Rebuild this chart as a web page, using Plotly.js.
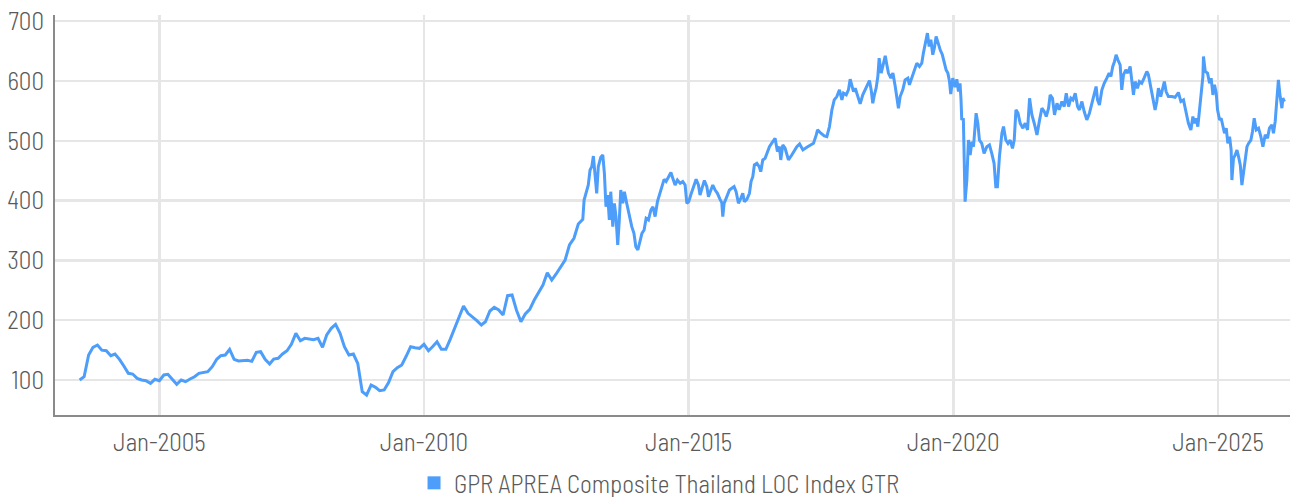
<!DOCTYPE html>
<html>
<head>
<meta charset="utf-8">
<script src="https://cdn.plot.ly/plotly-3.0.1.min.js"></script>
<style>
  html, body { margin: 0; padding: 0; background: #fff; }
  #chart { width: 1299px; height: 497px; }
</style>
</head>
<body>
<div id="chart"></div>
<script>
// ---- Data ----
const seriesName = 'GPR APREA Composite Thailand LOC Index GTR';

// Monthly observations, month-end dates
const monthlyDates = [
  '2003-06-30','2003-07-31','2003-08-31','2003-09-30','2003-10-31','2003-11-30','2003-12-31',
  '2004-01-31','2004-02-29','2004-03-31','2004-04-30','2004-05-31','2004-06-30','2004-07-31','2004-08-31','2004-09-30','2004-10-31','2004-11-30','2004-12-31',
  '2005-01-31','2005-02-28','2005-03-31','2005-04-30','2005-05-31','2005-06-30','2005-07-31','2005-08-31','2005-09-30','2005-10-31','2005-11-30','2005-12-31',
  '2006-01-31','2006-02-28','2006-03-31','2006-04-30','2006-05-31','2006-06-30','2006-07-31','2006-08-31','2006-09-30','2006-10-31','2006-11-30','2006-12-31',
  '2007-01-31','2007-02-28','2007-03-31','2007-04-30','2007-05-31','2007-06-30','2007-07-31','2007-08-31','2007-09-30','2007-10-31','2007-11-30','2007-12-31',
  '2008-01-31','2008-02-29','2008-03-31','2008-04-30','2008-05-31','2008-06-30','2008-07-31','2008-08-31','2008-09-30','2008-10-31','2008-11-30','2008-12-31',
  '2009-01-31','2009-02-28','2009-03-31','2009-04-30','2009-05-31','2009-06-30','2009-07-31','2009-08-31','2009-09-30','2009-10-31','2009-11-30','2009-12-31',
  '2010-01-31','2010-02-28','2010-03-31','2010-04-30','2010-05-31','2010-06-30','2010-07-31','2010-08-31','2010-09-30','2010-10-31','2010-11-30','2010-12-31',
  '2011-01-31','2011-02-28','2011-03-31','2011-04-30','2011-05-31','2011-06-30','2011-07-31','2011-08-31','2011-09-30','2011-10-31','2011-11-30','2011-12-31',
  '2012-01-31','2012-02-29','2012-03-31','2012-04-30','2012-05-31','2012-06-30','2012-07-31','2012-08-31','2012-09-30','2012-10-31','2012-11-30'
];
const monthlyValues = [
  100,105.5,141.8,154.7,158.5,150,149,
  140.7,143.5,134.6,123.4,111.2,110,102.8,100,98.9,94.5,101.2,98.9,
  108.4,109.5,100,92.8,100,97.2,101.7,105.5,111.2,112.8,113.9,122.3,
  134.6,140.7,141.8,151.3,134.6,131.8,132.3,132.9,131.2,146.3,147.4,134.6,
  126.8,135.1,136.3,143.5,149,159.7,178.1,165.7,169.7,168.6,167.4,169.7,
  154.7,175.3,186.4,193.1,178.1,155.7,141.8,143.5,127.9,80.5,74.9,91.6,
  87.7,82.1,83.3,95.5,113.9,120.6,125.1,140.1,155.7,154,153,159.7,
  149,155.7,164,151.3,151.3,168,186.4,205.9,223.7,211.5,205.9,199.2,
  192,197.5,215.4,221.6,217.1,208.7,241,242.1,217.1,197.5,210.4,218.2,
  233.8,246,258.9,279.5,267.2,277.3,289.5,300.7,325.8,337,360.9
];

const dailyDates = [
  '2012-12-31','2013-01-09','2013-01-28','2013-02-07','2013-02-19','2013-03-03','2013-03-14','2013-03-26','2013-04-06','2013-04-17',
  '2013-05-04','2013-05-18','2013-05-29','2013-06-09','2013-06-21','2013-07-02','2013-07-12','2013-07-26','2013-08-06','2013-08-17',
  '2013-08-29','2013-09-09','2013-09-19','2013-10-03','2013-10-14','2013-10-30','2013-11-17','2013-12-04','2013-12-19',
  '2014-01-01','2014-01-15','2014-01-31','2014-02-12','2014-02-27','2014-03-13','2014-03-29','2014-04-15','2014-04-29','2014-05-14',
  '2014-05-30','2014-06-13','2014-06-30','2014-07-15','2014-07-29','2014-08-14','2014-08-31','2014-09-13','2014-09-29','2014-10-15',
  '2014-11-03','2014-11-21','2014-12-07','2014-12-19',
  '2015-01-01','2015-01-15','2015-02-02','2015-02-21','2015-03-09','2015-03-20','2015-04-06','2015-04-19','2015-05-06','2015-05-17',
  '2015-06-03','2015-06-16','2015-07-02','2015-07-18','2015-08-05','2015-08-17','2015-08-24','2015-09-02','2015-09-21','2015-10-09',
  '2015-10-25','2015-11-10','2015-11-24','2015-12-10','2015-12-26',
  '2016-01-09','2016-01-20','2016-02-06','2016-02-24','2016-03-06','2016-03-18','2016-03-29','2016-04-15','2016-05-01','2016-05-12',
  '2016-05-26','2016-06-11','2016-06-27','2016-07-11','2016-07-27','2016-08-19','2016-09-04','2016-09-18','2016-09-27','2016-10-11',
  '2016-10-27','2016-11-19','2016-12-12',
  '2017-01-16','2017-02-04','2017-02-27','2017-03-26','2017-04-18','2017-05-11','2017-05-30','2017-06-08','2017-07-01','2017-07-24',
  '2017-08-11','2017-08-29','2017-09-15','2017-10-01','2017-10-19','2017-11-06','2017-11-23','2017-12-04','2017-12-23',
  '2018-01-07','2018-01-19','2018-01-31','2018-02-11','2018-02-23','2018-03-13','2018-03-29','2018-04-16','2018-05-02','2018-05-18',
  '2018-06-01','2018-06-13','2018-06-24','2018-07-05','2018-07-17','2018-07-29','2018-08-07','2018-08-21','2018-09-06','2018-09-18',
  '2018-09-29','2018-10-10','2018-10-27','2018-11-10','2018-11-26','2018-12-07','2018-12-18','2018-12-30',
  '2019-01-17','2019-02-02','2019-02-21','2019-03-04','2019-03-20','2019-04-06','2019-04-24','2019-05-12','2019-05-28','2019-06-08',
  '2019-06-22','2019-07-06','2019-07-18','2019-07-30','2019-08-12','2019-08-23','2019-09-04','2019-09-16','2019-10-02','2019-10-17',
  '2019-10-31','2019-11-12','2019-11-24','2019-12-05','2019-12-14','2019-12-28',
  '2020-01-13','2020-01-25','2020-02-05','2020-02-16','2020-02-23','2020-02-28','2020-03-10','2020-03-15','2020-03-22','2020-04-03',
  '2020-04-14','2020-04-26','2020-05-08','2020-05-19','2020-06-06','2020-06-18','2020-06-29','2020-07-15','2020-07-31','2020-08-19',
  '2020-09-06','2020-09-22','2020-10-08','2020-10-20','2020-10-31','2020-11-14','2020-12-01','2020-12-12','2020-12-28',
  '2021-01-12','2021-01-27','2021-02-12','2021-02-24','2021-03-08','2021-03-22','2021-04-06','2021-04-25','2021-05-11','2021-05-27',
  '2021-06-10','2021-06-26','2021-07-12','2021-07-31','2021-08-18','2021-09-03','2021-09-19','2021-10-03','2021-10-19','2021-10-30',
  '2021-11-15','2021-11-29','2021-12-16','2021-12-31',
  '2022-01-19','2022-02-04','2022-02-18','2022-03-06','2022-03-22','2022-04-05','2022-04-21','2022-05-07','2022-05-20','2022-06-06',
  '2022-06-22','2022-07-10','2022-07-28','2022-08-14','2022-08-30','2022-09-12','2022-09-22','2022-10-05','2022-10-22','2022-11-07',
  '2022-11-25','2022-12-11','2022-12-23',
  '2023-01-05','2023-01-17','2023-01-28','2023-02-09','2023-02-25','2023-03-08','2023-03-20','2023-04-05','2023-04-19','2023-05-05',
  '2023-05-16','2023-05-28','2023-06-08','2023-06-24','2023-07-08','2023-07-24','2023-08-09','2023-08-28','2023-09-08','2023-09-24',
  '2023-10-08','2023-10-24','2023-11-05','2023-11-16','2023-12-02','2023-12-13','2023-12-27',
  '2024-01-08','2024-01-24','2024-02-16','2024-03-10','2024-04-02','2024-04-19','2024-05-07','2024-05-25','2024-06-10','2024-06-27',
  '2024-07-11','2024-07-21','2024-08-02','2024-08-14','2024-08-25','2024-09-06','2024-09-18','2024-09-22','2024-10-04','2024-10-20',
  '2024-11-03','2024-11-14','2024-11-26','2024-12-07','2024-12-19','2024-12-28',
  '2025-01-11','2025-01-22','2025-02-03','2025-02-14','2025-02-26','2025-03-09','2025-03-21','2025-04-01','2025-04-06','2025-04-17',
  '2025-04-29','2025-05-11','2025-05-22','2025-06-03','2025-06-14','2025-06-25','2025-07-07','2025-07-19','2025-07-30','2025-08-15',
  '2025-08-26','2025-09-07','2025-09-21','2025-10-07','2025-10-23','2025-11-06','2025-11-22','2025-12-08','2025-12-21',
  '2026-01-07','2026-01-18','2026-01-30','2026-02-11','2026-02-21','2026-03-05','2026-03-17','2026-03-24','2026-04-04'
];
const dailyValues = [
  368.6,401,417.7,426.1,451.2,456.8,474.6,440.1,412.2,456.8,
  472.4,476.3,445.6,389.8,409.4,367.6,414.9,356.4,395.5,373.2,
  325.8,367.6,417.7,395.5,414.9,395.5,373.2,356.4,345.3,
  323,317.4,334.2,345.3,350.8,370.4,367.6,384.3,389.8,373.2,
  398.2,409.4,423.4,435.6,431.9,440.1,446.9,437.5,426.1,434.4,
  428.9,431.9,426.1,395.5,
  398.2,409.4,420.6,435.6,426.1,409.4,423.4,433.6,423.4,406.6,
  417.7,426.1,417.7,412.2,402.1,396.6,373.2,395.5,406.6,417.7,
  420.6,423.4,414.9,395.5,403.9,
  412.2,398.2,402.1,412.2,431.9,440.1,459.7,462.5,456.8,448.5,
  468,470.9,482,490.3,496,504.3,482,490.3,468,493.1,
  487.6,468,476.3,
  490.3,494.8,484.8,489.3,493.1,496,509.9,518.3,512.7,508.2,
  507,523.8,551.7,568.4,574,585.2,568.4,579.6,576.8,
  585.2,603.1,590.8,582.4,588,574,561.8,576.8,585.2,596.3,
  600.8,585.2,562.9,576.8,588,607.5,638.2,613.2,629.9,642.1,
  627.1,613.2,604.8,613.2,590.8,574,554.6,574,
  585.2,601.9,604.8,593.6,604.8,618.6,629.9,624.3,629.9,646.6,
  663.4,680.1,657.8,669,643.9,655.1,674.6,663.4,652.2,643.9,
  629.9,618.6,613.2,600,578,604.8,
  590,603,582.4,596.3,568.4,535,537.7,445.6,398.2,434.4,
  501.3,476.3,498.5,490.2,546.2,529.4,501.3,495.7,479,490.2,
  493.1,479,462.4,423.4,423.4,473.6,512.7,523.8,501.3,
  495.7,501.3,487.4,501.3,551.7,546.2,529.4,521.1,529.4,518.2,
  571.2,543.4,529.4,509.9,535,554.6,549,540.6,554.6,576.8,
  571.2,543.4,562.9,551.7,
  565.7,557.3,579.6,557.3,571.2,568.4,579.6,557.3,551.7,565.7,
  549,535,546.2,562.9,579.6,590.8,568.4,560,585.2,596.3,
  604.8,613.2,607.6,
  624.3,632.7,643.9,635.5,627.1,585.2,610.4,618.6,613.2,624.3,
  604,576.8,599,588,599.2,596.3,604.8,616,610.4,590.8,
  571.2,551.7,565.7,588,574,585.2,599.2,
  582.4,574,574,572.8,580.8,565.7,568.4,549,529.4,518.2,
  540.6,529.4,537.7,523.8,554.6,585.2,607.6,641,616,613.2,
  596.3,604.8,576.8,593.6,579.6,551.7,
  535,537.7,523.8,512.7,521.1,495.7,507,484.6,434.4,470.7,
  476.3,484.6,473.6,459.6,426.1,448.5,473.6,490.2,495.7,501.3,
  515.3,537.7,518.2,521.1,507,490.2,509.9,504.3,521.1,
  526.7,512.7,532.8,571.2,601.9,574,554.6,571.2,565.7
];

const xTickDates  = ['2005-01-01','2010-01-01','2015-01-01','2020-01-01','2025-01-01'];
const xTickLabels = ['Jan-2005','Jan-2010','Jan-2015','Jan-2020','Jan-2025'];
const yTickValues = [100,200,300,400,500,600,700];

// ---- Chart ----
const FONT = '"Barlow Semi Condensed", "Roboto Condensed", Roboto, sans-serif';
const TEXT_COLOR = '#5a5a5a';
const LINE_COLOR = '#4d9dfa';
const tickFont = { family: FONT, size: 25, color: TEXT_COLOR, weight: 300 };

const traces = [
  {
    type: 'scatter', mode: 'lines',
    x: monthlyDates.concat(dailyDates),
    y: monthlyValues.concat(dailyValues),
    line: { color: LINE_COLOR, width: 3 },
    name: seriesName, showlegend: false, hoverinfo: 'x+y'
  },
  {
    type: 'scatter', mode: 'markers',
    x: [null], y: [null],
    marker: { color: LINE_COLOR, symbol: 'square', size: 13 },
    name: seriesName, showlegend: true
  }
];

const layout = {
  width: 1299, height: 497,
  margin: { l: 55, r: 9, t: 15, b: 82, autoexpand: false },
  paper_bgcolor: '#ffffff', plot_bgcolor: '#ffffff',
  font: { family: FONT, size: 25, color: TEXT_COLOR, weight: 300 },
  showlegend: true,
  xaxis: {
    type: 'date',
    range: ['2003-01-11', '2026-05-12'],
    tickvals: xTickDates, ticktext: xTickLabels,
    showgrid: true, gridcolor: '#e6e6e6', gridwidth: 2.5,
    showline: true, linecolor: '#8a8a8a', linewidth: 2,
    ticks: '', zeroline: false, ticklabelstandoff: 4,
    tickfont: tickFont, automargin: false
  },
  yaxis: {
    range: [41.5, 710.4],
    tickvals: yTickValues,
    showgrid: true, gridcolor: '#e6e6e6', gridwidth: 2.5,
    showline: true, linecolor: '#8a8a8a', linewidth: 2,
    ticks: '', zeroline: false, ticklabelstandoff: 4,
    tickfont: tickFont, automargin: false
  },
  legend: {
    orientation: 'h', x: 0.4895, xanchor: 'center',
    yref: 'container', y: 0.028, yanchor: 'middle',
    font: tickFont,
    bgcolor: 'rgba(0,0,0,0)'
  }
};

Plotly.newPlot('chart', traces, layout, { displayModeBar: false, staticPlot: true });
</script>
</body>
</html>
